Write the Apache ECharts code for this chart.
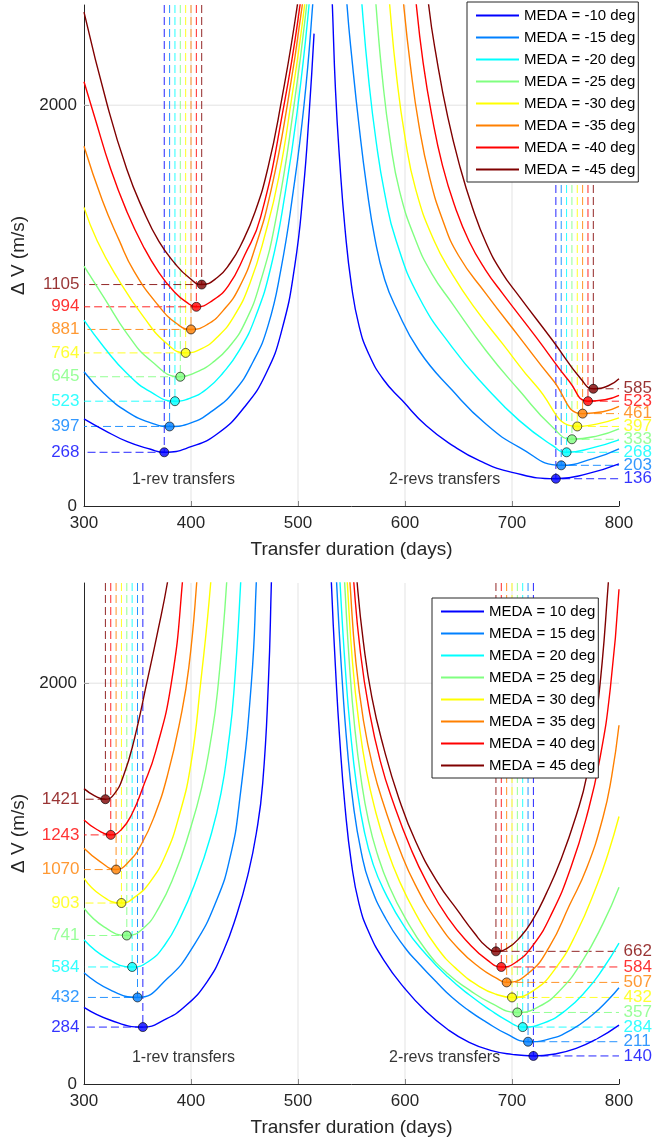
<!DOCTYPE html>
<html><head><meta charset="utf-8">
<script src="https://cdn.jsdelivr.net/npm/echarts@6/dist/echarts.min.js"></script>
<style>html,body{margin:0;padding:0;background:#fff}#c{width:667px;height:1143px}</style>
</head><body><div id="c"></div>
<script>
// ---------- data ----------
const X_MIN = 300, X_MAX = 800, Y_MIN = 0, Y_MAX = 2500;
const X_INTERVAL = 100;
const Y_TICKS = [0, 2000];
const GRID_X = [400, 500, 600, 700];
const GRID_Y = [2000];
const COLORS = ['#0000ff','#0080ff','#00ffff','#80ff80','#ffff00','#ff8000','#ff0000','#800000'];
const topNames = ['MEDA = -10 deg','MEDA = -15 deg','MEDA = -20 deg','MEDA = -25 deg','MEDA = -30 deg','MEDA = -35 deg','MEDA = -40 deg','MEDA = -45 deg'];
const botNames = ['MEDA = 10 deg','MEDA = 15 deg','MEDA = 20 deg','MEDA = 25 deg','MEDA = 30 deg','MEDA = 35 deg','MEDA = 40 deg','MEDA = 45 deg'];
const annotText = ['1-rev transfers', '2-revs transfers'];
const annotX = [393, 637];
const annotY = [130, 130];

// minima (top panel: negative MEDA)
const top1MinX = [375,380,385,390,395,400,405,410];
const top1MinV = [268,397,523,645,764,881,994,1105];
const top2MinX = [741,746,751,756,761,766,771,776];
const top2MinV = [136,203,268,333,397,461,523,585];
// minima (bottom panel: positive MEDA)
const bot1MinX = [355,350,345,340,335,330,325,320];
const bot1MinV = [284,432,584,741,903,1070,1243,1421];
const bot2MinX = [720,715,710,705,700,695,690,685];
const bot2MinV = [140,211,284,357,432,507,584,662];

// curves [days, dV]
const top1Rev = [
 [[300,435],[318.7,379],[340.5,321],[362.3,283],[375,268],[400,296],[425,362],[450,494],[470,660],[485,880],[497,1200],[505,1580],[510.3,1950],[515,2357]],
 [[300,670],[318.7,561],[340.5,470],[362.3,415],[380,397],[400,415],[420,475],[440,570],[458,720],[472,900],[484,1180],[495,1550],[505.6,2000],[513.7,2500],[515,2650]],
 [[300,927],[318.7,792],[340.5,660],[362.3,569],[385,523],[400,540],[415,585],[430,665],[445,775],[460,940],[475,1200],[488,1560],[500,2000],[510.3,2500],[511.8,2650]],
 [[300,1197],[318.7,1040],[340.5,858],[362.3,726],[390,645],[405,668],[420,715],[435,790],[450,910],[465,1120],[480,1450],[496.3,2000],[508.1,2500],[509.8,2650]],
 [[300,1490],[312.5,1321],[331.2,1139],[356,941],[377.9,808],[395,764],[410,785],[425,845],[440,945],[455,1110],[470,1370],[482,1640],[493.1,2000],[506.2,2500],[508,2650]],
 [[300,1795],[317,1527],[332.7,1328],[346.7,1172],[368.5,1007],[387.2,908],[400,881],[415,905],[430,975],[445,1090],[460,1290],[475,1580],[490,2000],[504,2500],[506,2650]],
 [[300,2117],[310,1940],[325,1680],[340,1470],[355,1300],[370,1165],[385,1065],[395,1020],[405,994],[420,1025],[435,1100],[450,1250],[465,1440],[486.9,2000],[501.9,2500],[504,2650]],
 [[300,2464],[321.8,2000],[340,1680],[355,1480],[370,1320],[385,1210],[398,1140],[410,1105],[424.6,1140],[437,1215],[446.4,1300],[460,1470],[472,1690],[483.8,2000],[499.4,2500],[501.5,2650]]
];
const top2Rev = [
 [[530.5,2700],[532.1,2500],[535,2080],[539,1720],[544,1380],[550,1100],[557,900],[566,760],[580,630],[597.5,526],[620,400],[645,300],[670,225],[700,168],[741,136],[770,160],[800,210]],
 [[544,2700],[545.8,2500],[551,2200],[557,1900],[564,1600],[572,1330],[581,1130],[591.3,993],[613,776],[644.4,576],[675.6,409],[706.9,293],[746,203],[775,235],[800,285]],
 [[557.5,2700],[559.8,2500],[566,2130],[573,1820],[581,1560],[591.6,1326],[613,1043],[644,793],[675.6,593],[706.9,426],[738,301],[751,268],[775,290],[800,330]],
 [[570.5,2700],[572.9,2500],[579,2130],[586,1830],[595,1570],[610,1326],[625,1160],[644.4,1009],[675.6,776],[706.9,576],[738,393],[756,333],[780,350],[800,385]],
 [[583,2700],[585.7,2500],[592,2150],[600,1840],[610,1580],[627,1326],[645,1150],[665,990],[691.3,809],[722.5,600],[761,397],[780,410],[800,440]],
 [[596,2700],[598.8,2500],[605,2200],[613,1900],[623,1640],[635,1430],[650,1250],[675.6,1060],[706.9,843],[738,630],[766,461],[785,470],[800,497]],
 [[608,2700],[610.6,2500],[617,2210],[625,1950],[635,1700],[647,1490],[660,1320],[675,1180],[691.3,1060],[722.5,843],[753.8,620],[771,523],[787,530],[800,552]],
 [[619.5,2700],[622.1,2500],[630,2220],[640,1940],[651,1700],[663,1490],[676,1310],[690,1170],[706.9,1045],[738,826],[765,630],[776,585],[790,600],[800,635]]
];
const bot1Rev = [
 [[300,382],[324.9,318],[355,284],[375,320],[395,390],[415,510],[430,660],[443,850],[453,1040],[461,1250],[467,1500],[472.3,2000],[475.1,2500],[476,2700]],
 [[300,555],[324.9,468],[350,432],[377.9,526],[402.8,693],[424.6,926],[437,1142],[444.9,1392],[456.4,2000],[461,2500],[462,2700]],
 [[300,720],[321.8,626],[345,584],[360,610],[375,690],[390,830],[405,1020],[418,1230],[428,1450],[435,1700],[440,1950],[446.4,2500],[447.5,2700]],
 [[300,877],[318.7,784],[340,741],[355,775],[370,880],[385,1050],[398,1250],[410,1480],[418,1700],[424.6,1950],[433.3,2500],[434.5,2700]],
 [[300,1026],[315.6,943],[335,903],[348,935],[362,1010],[376,1140],[389,1340],[400,1600],[409,2000],[418.4,2500],[420,2700]],
 [[300,1176],[315,1110],[330,1070],[342,1110],[354,1200],[366,1340],[378,1540],[390,1820],[398,2080],[405.3,2500],[407,2700]],
 [[300,1317],[312,1270],[325,1243],[335,1270],[345,1350],[355,1480],[367,1660],[381.6,2000],[391.9,2500],[393.5,2700]],
 [[300,1474],[310,1438],[320,1421],[328,1445],[337,1540],[347,1720],[358.6,2000],[369,2260],[377.9,2500],[380,2600]]
];
const bot2Rev = [
 [[530,2700],[531.2,2500],[535,2080],[539,1720],[544,1380],[550,1100],[557,900],[566,760],[580,620],[600,475],[620,360],[640,272],[660,208],[680,168],[700,148],[720,140],[740,150],[760,178],[780,227],[800,294]],
 [[534.5,2700],[536.1,2500],[541,2040],[546,1680],[552,1380],[559,1160],[567,1000],[581.9,826],[600,680],[613.1,600],[630,505],[644.4,430],[660,365],[675.6,310],[695,250],[715,211],[735,225],[755,269],[775,344],[790,420],[800,480]],
 [[537.5,2700],[539.3,2500],[544,2090],[549,1760],[555,1480],[562,1260],[570,1100],[580,970],[600,780],[620,645],[640,535],[660,445],[680,368],[695,318],[710,284],[730,305],[750,367],[770,470],[785,575],[800,703]],
 [[541.5,2700],[543.6,2500],[548,2100],[553,1780],[559,1520],[566,1310],[574,1150],[585,990],[600,830],[620,665],[640,550],[660,470],[680,405],[705,357],[725,386],[745,468],[765,607],[785,800],[800,982]],
 [[544,2700],[546.1,2500],[551,2100],[557,1800],[564,1560],[572.5,1360],[582,1190],[595,1010],[610,850],[630,680],[650,565],[670,485],[685,448],[700,432],[720,466],[740,572],[760,751],[780,1001],[790,1153],[800,1335]],
 [[546.5,2700],[548.6,2500],[554,2110],[561,1820],[570,1580],[581,1380],[595,1170],[610,990],[630,810],[650,675],[670,580],[685,530],[695,507],[715,551],[735,685],[753.8,893],[770,1080],[785,1330],[793,1530],[800,1790]],
 [[550,2700],[552.2,2500],[558,2170],[566,1880],[577,1610],[590,1390],[605,1180],[620,1010],[640,830],[660,700],[677,618],[690,584],[703,605],[720,695],[738,860],[755,1080],[770,1340],[782,1620],[792,1980],[800,2469]],
 [[553,2700],[555.3,2500],[561,2210],[569,1930],[580,1680],[594,1430],[610,1210],[630,1010],[650,860],[665,752],[676,686],[685,662],[695,675],[708,735],[720,825],[732,950],[745,1110],[760,1340],[770,1540],[780,1880],[790,2500],[791.5,2700]]
];

// ---------- styling ----------
const FONT = '"Liberation Sans", Arial, Helvetica, sans-serif';
const AXIS_COLOR = '#262626';
const GRID_COLOR = '#e3e3e3';

function axesFor(idx) {
  return {
    x: {
      type: 'value', gridIndex: idx, min: X_MIN, max: X_MAX, interval: X_INTERVAL,
      axisLine: { show: true, onZero: false, lineStyle: { color: AXIS_COLOR, width: 1 } },
      axisTick: { show: true, inside: true, length: 5, lineStyle: { color: AXIS_COLOR } },
      axisLabel: { fontSize: 17, color: AXIS_COLOR, margin: 9, fontFamily: FONT, formatter: v => String(v) },
      splitLine: { show: false },
      name: 'Transfer duration (days)', nameLocation: 'middle', nameGap: 34,
      nameTextStyle: { fontSize: 19, color: AXIS_COLOR, fontFamily: FONT }
    },
    y: {
      type: 'value', gridIndex: idx, min: Y_MIN, max: Y_MAX, interval: 500,
      axisLine: { show: true, onZero: false, lineStyle: { color: AXIS_COLOR, width: 1 } },
      axisTick: { show: true, inside: true, length: 5, customValues: Y_TICKS, lineStyle: { color: AXIS_COLOR } },
      axisLabel: { fontSize: 17, color: AXIS_COLOR, margin: 7, fontFamily: FONT, customValues: Y_TICKS, formatter: v => String(v) },
      splitLine: { show: false },
      name: 'Δ V (m/s)', nameLocation: 'middle', nameGap: 46,
      nameTextStyle: { fontSize: 19, color: AXIS_COLOR, fontFamily: FONT }
    }
  };
}

function panelSeries(p, names, c1, c2, m1x, m1v, m2x, m2v) {
  const s = [];
  const base = { xAxisIndex: p, yAxisIndex: p, silent: true, animation: false };
  GRID_X.forEach(x => s.push(Object.assign({ type: 'line', data: [[x, Y_MIN], [x, Y_MAX]], symbol: 'none',
    lineStyle: { color: GRID_COLOR, width: 1 }, z: 1 }, base)));
  GRID_Y.forEach(y => s.push(Object.assign({ type: 'line', data: [[X_MIN, y], [X_MAX, y]], symbol: 'none',
    lineStyle: { color: GRID_COLOR, width: 1 }, z: 1 }, base)));
  for (let i = 0; i < 8; i++) {
    s.push(Object.assign({ type: 'line', data: [[m1x[i], Y_MAX], [m1x[i], m1v[i]], [X_MIN, m1v[i]]], symbol: 'none',
      lineStyle: { color: COLORS[i], width: 1, type: [8, 4], opacity: 0.85 }, z: 2 }, base));
    s.push(Object.assign({ type: 'line', data: [[m2x[i], Y_MAX], [m2x[i], m2v[i]], [X_MAX, m2v[i]]], symbol: 'none',
      lineStyle: { color: COLORS[i], width: 1, type: [8, 4], opacity: 0.85 }, z: 2 }, base));
  }
  for (let i = 0; i < 8; i++) {
    [c1[i], c2[i]].forEach(d => s.push(Object.assign({ type: 'line', name: names[i], data: d, symbol: 'none', showSymbol: false,
      smooth: 0.5, clip: true, lineStyle: { color: COLORS[i], width: 1.4 }, itemStyle: { color: COLORS[i] }, z: 3 }, base)));
  }
  const mk = [];
  for (let i = 0; i < 8; i++) {
    mk.push({ value: [m1x[i], m1v[i]], itemStyle: { color: COLORS[i] } });
    mk.push({ value: [m2x[i], m2v[i]], itemStyle: { color: COLORS[i] } });
  }
  s.push(Object.assign({ type: 'scatter', data: mk, symbol: 'circle', symbolSize: 9, clip: false,
    itemStyle: { borderColor: '#000', borderWidth: 0.8 }, z: 5 }, base));
  const lbL = [], lbR = [];
  for (let i = 0; i < 8; i++) {
    lbL.push({ value: [X_MIN, m1v[i]], label: { color: COLORS[i] } });
    lbR.push({ value: [X_MAX, m2v[i]], label: { color: COLORS[i] } });
  }
  const lblStyle = { show: true, fontSize: 17, fontFamily: FONT, distance: 4, formatter: q => String(q.value[1]) };
  s.push(Object.assign({ type: 'scatter', data: lbL, symbolSize: 1, clip: false, itemStyle: { color: 'rgba(0,0,0,0)' },
    label: Object.assign({ position: 'left' }, lblStyle), z: 6 }, base));
  s.push(Object.assign({ type: 'scatter', data: lbR, symbolSize: 1, clip: false, itemStyle: { color: 'rgba(0,0,0,0)' },
    label: Object.assign({ position: 'right' }, lblStyle), z: 6 }, base));
  const an = annotText.map((t, k) => ({ value: [annotX[k], annotY[k]], name: t }));
  s.push(Object.assign({ type: 'scatter', data: an, symbolSize: 1, itemStyle: { color: 'rgba(0,0,0,0)' },
    label: { show: true, position: 'inside', color: '#000', fontSize: 16, fontFamily: FONT, formatter: q => q.name }, z: 6 }, base));
  return s;
}

const a0 = axesFor(0), a1 = axesFor(1);
const legendCommon = {
  orient: 'vertical', icon: 'rect', itemWidth: 43, itemHeight: 2, itemGap: 7,
  backgroundColor: '#fff', borderColor: AXIS_COLOR, borderWidth: 1, padding: [6, 3, 5, 9],
  selectedMode: false, z: 20,
  textStyle: { fontSize: 15, color: '#000', fontFamily: FONT, lineHeight: 15 }
};
const option = {
  animation: false,
  textStyle: { fontFamily: FONT },
  grid: [
    { left: 84, top: 5, width: 535, height: 501 },
    { left: 84, top: 583, width: 535, height: 501 }
  ],
  xAxis: [a0.x, a1.x],
  yAxis: [a0.y, a1.y],
  legend: [
    Object.assign({ data: topNames, left: 467, top: 2 }, legendCommon),
    Object.assign({ data: botNames, left: 432, top: 598 }, legendCommon)
  ],
  series: [].concat(
    panelSeries(0, topNames, top1Rev, top2Rev, top1MinX, top1MinV, top2MinX, top2MinV),
    panelSeries(1, botNames, bot1Rev, bot2Rev, bot1MinX, bot1MinV, bot2MinX, bot2MinV)
  )
};
const chart = echarts.init(document.getElementById('c'), null, { renderer: 'canvas' });
chart.setOption(option);
</script></body></html>
